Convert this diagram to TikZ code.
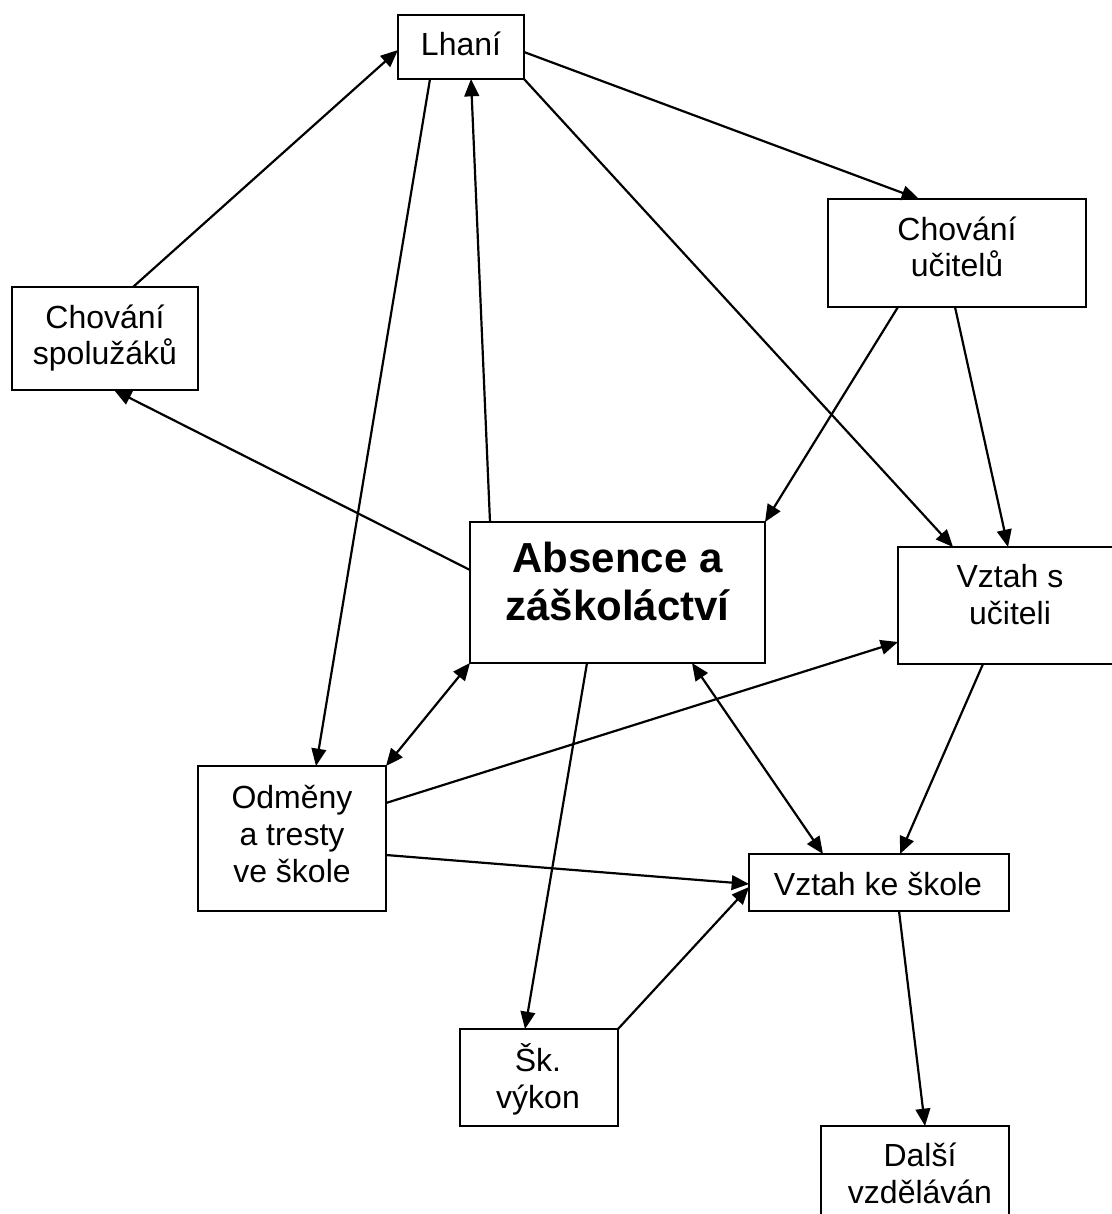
\documentclass[tikz,border=0pt]{standalone}
\usepackage{fontspec}
\setmainfont{Liberation Sans}
\usetikzlibrary{arrows.meta,calc}
\begin{document}
\begin{tikzpicture}[x=0.75pt,y=-0.75pt,
  box/.style={draw,line width=1.5pt,rectangle,inner sep=0pt,outer sep=0pt},
  txt/.style={inner sep=0pt,align=center,font=\fontsize{24}{27.5}\selectfont},
  bigtxt/.style={inner sep=0pt,align=center,font=\fontsize{31.5}{36}\selectfont\bfseries},
  conn/.style={line width=1.65pt,-{Triangle[length=13pt,width=11pt]}},
  dconn/.style={line width=1.65pt,{Triangle[length=13pt,width=11pt]}-{Triangle[length=13pt,width=11pt]}}]
\useasboundingbox (0,0) rectangle (1111,1214);
\fill[white] (0,0) rectangle (1111,1214);
% boxes
\node[box,minimum width=94.5pt,minimum height=48pt] (lh) at (461,47) {};
\node[box,minimum width=193.5pt,minimum height=81pt] (cu) at (957,253) {};
\node[box,minimum width=139.5pt,minimum height=77.25pt] (cs) at (105,338.5) {};
\node[box,minimum width=221.25pt,minimum height=105.75pt] (ab) at (617.5,592.5) {};
\node[box,minimum width=168pt,minimum height=87.75pt] (vu) at (1010,605.5) {};
\node[box,minimum width=141pt,minimum height=108.75pt] (od) at (292,838.5) {};
\node[box,minimum width=195pt,minimum height=42.75pt] (vs) at (879,882.5) {};
\node[box,minimum width=118.5pt,minimum height=72.75pt] (sv) at (539,1077.5) {};
\node[box,minimum width=141pt,minimum height=85.5pt] (dv) at (915,1183) {};
% texts
\node[txt] (lht) at (461,44) {Lhaní};
\node[txt] (cut) at (957,247) {Chování\\učitelů};
\node[txt] (cst) at (105,338) {Chování\\spolužáků};
\node[bigtxt] (abt) at (617.5,581.5) {Absence a\\záškoláctví};
\node[txt] (vut) at (1010,594.5) {Vztah s\\učiteli};
\node[txt] (odt) at (292,834) {Odměny\\a tresty\\ve škole};
\node[txt] (vst) at (878,884) {Vztah ke škole};
\node[txt] (svt) at (538,1079) {Šk.\\výkon};
\node[txt] (dvt) at (920,1173.5) {Další\\vzděláván};
% connectors
\draw[conn] ($(cs.north west)+(121,0)$) -- ($(lh.north west)+(0,35)$);
\draw[conn] ($(lh.south west)+(32,0)$) -- ($(od.north west)+(118,0)$);
\draw[conn] ($(ab.north west)+(20,0)$) -- ($(lh.south west)+(73,0)$);
\draw[conn] ($(lh.north east)+(0,37)$) -- ($(cu.north west)+(91,0)$);
\draw[conn] (lh.south east) -- ($(vu.north west)+(55,0)$);
\draw[conn] ($(cu.south west)+(70,0)$) -- (ab.north east);
\draw[conn] ($(cu.south west)+(127,0)$) -- ($(vu.north west)+(110,0)$);
\draw[conn] ($(ab.north west)+(0,48)$) -- ($(cs.south west)+(102,0)$);
\draw[dconn] (ab.south west) -- (od.north east);
\draw[dconn] ($(ab.south west)+(222,0)$) -- ($(vs.north west)+(74,0)$);
\draw[conn] ($(od.north east)+(0,37)$) -- ($(vu.north west)+(0,95)$);
\draw[conn] ($(od.north east)+(0,89)$) -- ($(vs.north west)+(0,30)$);
\draw[conn] (sv.north east) -- ($(vs.north west)+(0,33)$);
\draw[conn] ($(ab.south west)+(117,0)$) -- ($(sv.north west)+(65,0)$);
\draw[conn] ($(vu.south west)+(85,0)$) -- ($(vs.north west)+(151,0)$);
\draw[conn] ($(vs.south west)+(150,0)$) -- ($(dv.north west)+(104,0)$);
\end{tikzpicture}
\end{document}
